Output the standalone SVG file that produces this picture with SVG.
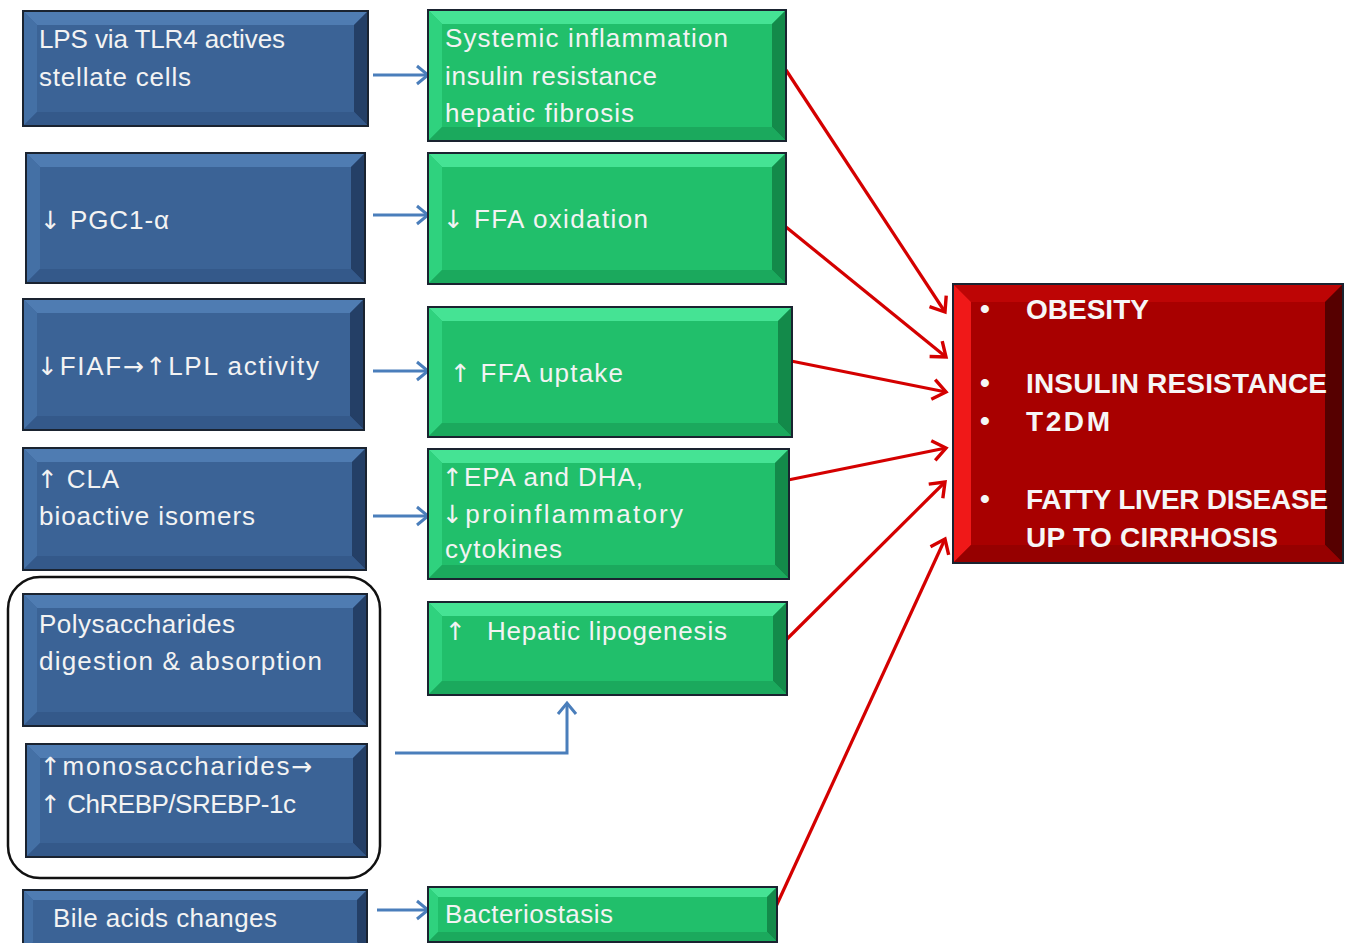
<svg xmlns="http://www.w3.org/2000/svg" width="1349" height="943" viewBox="0 0 1349 943">
<defs>
<style>
.bg{fill:#ffffff}
.box{stroke:#1a2330;stroke-width:2}
.blue .m{fill:#3b6396}.blue .t{fill:#4f7cb2}.blue .l{fill:#4470a5}.blue .r{fill:#243f66}.blue .b{fill:#34598a}
.green .m{fill:#21bf6b}.green .t{fill:#45e394}.green .l{fill:#2fd27e}.green .r{fill:#138a4a}.green .b{fill:#1ba95d}
.red .m{fill:#a80000}.red .t{fill:#bd0505}.red .l{fill:#f01818}.red .r{fill:#560000}.red .b{fill:#960000}
.lbl{fill:#f3f3f3;font-family:"Liberation Sans","DejaVu Sans",sans-serif;font-size:26px}
.ar{font-family:"DejaVu Sans",sans-serif;font-size:25px}
.rb{fill:#f6f6f6;font-family:"Liberation Sans","DejaVu Sans",sans-serif;font-size:28px;font-weight:bold}
.ba{stroke:#4a7ebb;stroke-width:3;fill:none}
.ra{stroke:#d40000;stroke-width:3.2;fill:none}
.grp{stroke:#111;stroke-width:2.5;fill:none}
</style>
<marker id="ab" markerUnits="userSpaceOnUse" markerWidth="20" markerHeight="22" viewBox="0 0 20 22" refX="17" refY="11" orient="auto">
<path d="M6,2 L17,11 L6,20" fill="none" stroke="#4a7ebb" stroke-width="3"/>
</marker>
<marker id="ar" markerUnits="userSpaceOnUse" markerWidth="22" markerHeight="24" viewBox="0 0 22 24" refX="19" refY="12" orient="auto">
<path d="M6,2 L19,12 L6,22" fill="none" stroke="#d40000" stroke-width="3.4"/>
</marker>
</defs>
<rect class="bg" x="0" y="0" width="1349" height="943"/>

<g id="connectors">
<line class="ba" x1="373" y1="75" x2="428" y2="75" marker-end="url(#ab)"/>
<line class="ba" x1="373" y1="215" x2="428" y2="215" marker-end="url(#ab)"/>
<line class="ba" x1="373" y1="371" x2="428" y2="371" marker-end="url(#ab)"/>
<line class="ba" x1="373" y1="516" x2="428" y2="516" marker-end="url(#ab)"/>
<line class="ba" x1="377" y1="910" x2="428" y2="910" marker-end="url(#ab)"/>
<path class="ba" d="M395,753 H567 V703" marker-end="url(#ab)"/>
<line class="ra" x1="786" y1="70" x2="945" y2="312" marker-end="url(#ar)"/>
<line class="ra" x1="786" y1="227" x2="946" y2="357" marker-end="url(#ar)"/>
<line class="ra" x1="791" y1="361" x2="946" y2="392" marker-end="url(#ar)"/>
<line class="ra" x1="788" y1="480" x2="946" y2="448" marker-end="url(#ar)"/>
<line class="ra" x1="786" y1="640" x2="945" y2="482" marker-end="url(#ar)"/>
<line class="ra" x1="773" y1="913" x2="945" y2="539" marker-end="url(#ar)"/>
</g>

<g id="group-outline">
<rect class="grp" x="8" y="577" width="372" height="301" rx="32" ry="32"/>
</g>

<g id="n-lps" class="blue">
<rect class="box m" x="23" y="11" width="345" height="115"/>
<polygon class="t" points="23,11 368,11 354,25 37,25"/>
<polygon class="l" points="23,11 37,25 37,112 23,126"/>
<polygon class="r" points="368,11 368,126 354,112 354,25"/>
<polygon class="b" points="23,126 37,112 354,112 368,126"/>
<rect x="23" y="11" width="345" height="115" fill="none" class="box"/>
<text class="lbl" x="39" y="48" textLength="246" lengthAdjust="spacing">LPS via TLR4 actives</text>
<text class="lbl" x="39" y="86" textLength="152" lengthAdjust="spacing">stellate cells</text>
</g>

<g id="n-pgc" class="blue">
<rect class="box m" x="26" y="153" width="339" height="130"/>
<polygon class="t" points="26,153 365,153 351,167 40,167"/>
<polygon class="l" points="26,153 40,167 40,269 26,283"/>
<polygon class="r" points="365,153 365,283 351,269 351,167"/>
<polygon class="b" points="26,283 40,269 351,269 365,283"/>
<rect x="26" y="153" width="339" height="130" fill="none" class="box"/>
<text class="lbl" x="40" y="229" textLength="129" lengthAdjust="spacing"><tspan class="ar">↓</tspan> PGC1-α</text>
</g>

<g id="n-fiaf" class="blue">
<rect class="box m" x="23" y="299" width="341" height="131"/>
<polygon class="t" points="23,299 364,299 350,313 37,313"/>
<polygon class="l" points="23,299 37,313 37,416 23,430"/>
<polygon class="r" points="364,299 364,430 350,416 350,313"/>
<polygon class="b" points="23,430 37,416 350,416 364,430"/>
<rect x="23" y="299" width="341" height="131" fill="none" class="box"/>
<text class="lbl" x="37" y="375" textLength="282" lengthAdjust="spacing"><tspan class="ar">↓</tspan>FIAF<tspan class="ar">→↑</tspan>LPL activity</text>
</g>

<g id="n-cla" class="blue">
<rect class="box m" x="23" y="448" width="343" height="122"/>
<polygon class="t" points="23,448 366,448 352,462 37,462"/>
<polygon class="l" points="23,448 37,462 37,556 23,570"/>
<polygon class="r" points="366,448 366,570 352,556 352,462"/>
<polygon class="b" points="23,570 37,556 352,556 366,570"/>
<rect x="23" y="448" width="343" height="122" fill="none" class="box"/>
<text class="lbl" x="37" y="488" textLength="82" lengthAdjust="spacing"><tspan class="ar">↑</tspan> CLA</text>
<text class="lbl" x="39" y="525" textLength="216" lengthAdjust="spacing">bioactive isomers</text>
</g>

<g id="n-poly" class="blue">
<rect class="box m" x="23" y="594" width="344" height="132"/>
<polygon class="t" points="23,594 367,594 353,608 37,608"/>
<polygon class="l" points="23,594 37,608 37,712 23,726"/>
<polygon class="r" points="367,594 367,726 353,712 353,608"/>
<polygon class="b" points="23,726 37,712 353,712 367,726"/>
<rect x="23" y="594" width="344" height="132" fill="none" class="box"/>
<text class="lbl" x="39" y="633" textLength="196" lengthAdjust="spacing">Polysaccharides</text>
<text class="lbl" x="39" y="670" textLength="283" lengthAdjust="spacing">digestion &amp; absorption</text>
</g>

<g id="n-mono" class="blue">
<rect class="box m" x="26" y="744" width="341" height="113"/>
<polygon class="t" points="26,744 367,744 353,758 40,758"/>
<polygon class="l" points="26,744 40,758 40,843 26,857"/>
<polygon class="r" points="367,744 367,857 353,843 353,758"/>
<polygon class="b" points="26,857 40,843 353,843 367,857"/>
<rect x="26" y="744" width="341" height="113" fill="none" class="box"/>
<text class="lbl" x="40" y="775" textLength="272" lengthAdjust="spacing"><tspan class="ar">↑</tspan>monosaccharides<tspan class="ar">→</tspan></text>
<text class="lbl" x="40" y="813" textLength="256" lengthAdjust="spacing"><tspan class="ar">↑</tspan> ChREBP/SREBP-1c</text>
</g>

<g id="n-bile" class="blue">
<rect class="box m" x="23" y="890" width="344" height="62"/>
<polygon class="t" points="23,890 367,890 357,900 33,900"/>
<polygon class="l" points="23,890 33,900 33,942 23,952"/>
<polygon class="r" points="367,890 367,952 357,942 357,900"/>
<rect x="23" y="890" width="344" height="62" fill="none" class="box"/>
<text class="lbl" x="53" y="927" textLength="224" lengthAdjust="spacing">Bile acids changes</text>
</g>

<g id="n-systemic" class="green">
<rect class="box m" x="428" y="10" width="358" height="131"/>
<polygon class="t" points="428,10 786,10 772,24 442,24"/>
<polygon class="l" points="428,10 442,24 442,127 428,141"/>
<polygon class="r" points="786,10 786,141 772,127 772,24"/>
<polygon class="b" points="428,141 442,127 772,127 786,141"/>
<rect x="428" y="10" width="358" height="131" fill="none" class="box"/>
<text class="lbl" x="445" y="47" textLength="283" lengthAdjust="spacing">Systemic inflammation</text>
<text class="lbl" x="445" y="85" textLength="212" lengthAdjust="spacing">insulin resistance</text>
<text class="lbl" x="445" y="122" textLength="189" lengthAdjust="spacing">hepatic fibrosis</text>
</g>

<g id="n-ffaox" class="green">
<rect class="box m" x="428" y="153" width="358" height="131"/>
<polygon class="t" points="428,153 786,153 772,167 442,167"/>
<polygon class="l" points="428,153 442,167 442,270 428,284"/>
<polygon class="r" points="786,153 786,284 772,270 772,167"/>
<polygon class="b" points="428,284 442,270 772,270 786,284"/>
<rect x="428" y="153" width="358" height="131" fill="none" class="box"/>
<text class="lbl" x="443" y="228" textLength="205" lengthAdjust="spacing"><tspan class="ar">↓</tspan> FFA oxidation</text>
</g>

<g id="n-ffaup" class="green">
<rect class="box m" x="428" y="307" width="364" height="130"/>
<polygon class="t" points="428,307 792,307 778,321 442,321"/>
<polygon class="l" points="428,307 442,321 442,423 428,437"/>
<polygon class="r" points="792,307 792,437 778,423 778,321"/>
<polygon class="b" points="428,437 442,423 778,423 792,437"/>
<rect x="428" y="307" width="364" height="130" fill="none" class="box"/>
<text class="lbl" x="450" y="382" textLength="173" lengthAdjust="spacing"><tspan class="ar">↑</tspan> FFA uptake</text>
</g>

<g id="n-epa" class="green">
<rect class="box m" x="428" y="449" width="361" height="130"/>
<polygon class="t" points="428,449 789,449 775,463 442,463"/>
<polygon class="l" points="428,449 442,463 442,565 428,579"/>
<polygon class="r" points="789,449 789,579 775,565 775,463"/>
<polygon class="b" points="428,579 442,565 775,565 789,579"/>
<rect x="428" y="449" width="361" height="130" fill="none" class="box"/>
<text class="lbl" x="442" y="486" textLength="201" lengthAdjust="spacing"><tspan class="ar">↑</tspan>EPA and DHA,</text>
<text class="lbl" x="442" y="523" textLength="241" lengthAdjust="spacing"><tspan class="ar">↓</tspan>proinflammatory</text>
<text class="lbl" x="445" y="558" textLength="117" lengthAdjust="spacing">cytokines</text>
</g>

<g id="n-lipo" class="green">
<rect class="box m" x="428" y="602" width="359" height="93"/>
<polygon class="t" points="428,602 787,602 773,616 442,616"/>
<polygon class="l" points="428,602 442,616 442,681 428,695"/>
<polygon class="r" points="787,602 787,695 773,681 773,616"/>
<polygon class="b" points="428,695 442,681 773,681 787,695"/>
<rect x="428" y="602" width="359" height="93" fill="none" class="box"/>
<text class="lbl" x="445" y="640"><tspan class="ar">↑</tspan></text>
<text class="lbl" x="487" y="640" textLength="240" lengthAdjust="spacing">Hepatic lipogenesis</text>
</g>

<g id="n-bact" class="green">
<rect class="box m" x="428" y="887" width="349" height="55"/>
<polygon class="t" points="428,887 777,887 767,897 438,897"/>
<polygon class="l" points="428,887 438,897 438,932 428,942"/>
<polygon class="r" points="777,887 777,942 767,932 767,897"/>
<polygon class="b" points="428,942 438,932 767,932 777,942"/>
<rect x="428" y="887" width="349" height="55" fill="none" class="box"/>
<text class="lbl" x="445" y="923" textLength="168" lengthAdjust="spacing">Bacteriostasis</text>
</g>

<g id="n-outcome" class="red">
<rect class="box m" x="953" y="284" width="390" height="279"/>
<polygon class="t" points="953,284 1343,284 1325,302 971,302"/>
<polygon class="l" points="953,284 971,302 971,545 953,563"/>
<polygon class="r" points="1343,284 1343,563 1325,545 1325,302"/>
<polygon class="b" points="953,563 971,545 1325,545 1343,563"/>
<rect x="953" y="284" width="390" height="279" fill="none" class="box"/>
<text class="rb" x="980" y="318">•</text>
<text class="rb" x="1026" y="319">OBESITY</text>
<text class="rb" x="980" y="392">•</text>
<text class="rb" x="1026" y="393" textLength="301" lengthAdjust="spacing">INSULIN RESISTANCE</text>
<text class="rb" x="980" y="430">•</text>
<text class="rb" x="1026" y="431" textLength="84" lengthAdjust="spacing">T2DM</text>
<text class="rb" x="980" y="508">•</text>
<text class="rb" x="1026" y="509" textLength="302" lengthAdjust="spacing">FATTY LIVER DISEASE</text>
<text class="rb" x="1026" y="547" textLength="252" lengthAdjust="spacing">UP TO CIRRHOSIS</text>
</g>
</svg>
